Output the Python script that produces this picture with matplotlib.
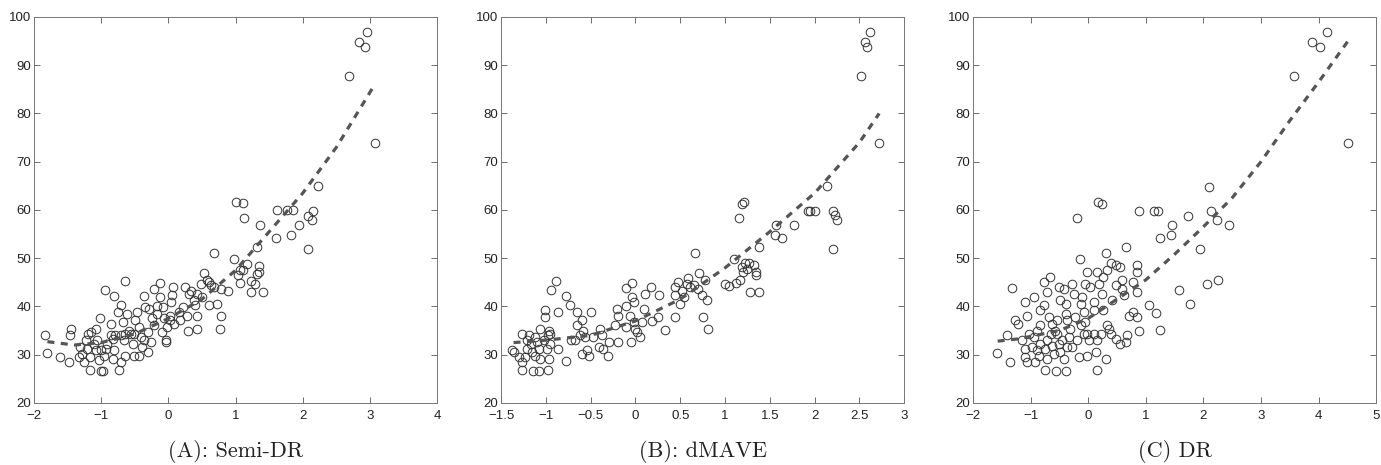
import matplotlib
matplotlib.use("Agg")
import matplotlib.pyplot as plt

# ---------------- Panel A: Semi-DR ----------------
x_a = [2.95, 2.84, 2.93, 2.69, 3.07,
       1.01, 1.11, 1.13, 1.37, 1.61, 1.60, 1.77, 1.85, 1.82, 1.94, 2.07, 2.15, 2.14, 2.07, 2.22, 1.32, 0.68, 0.97,
       1.06, 1.11, 1.17, 1.06, 1.23, 1.29, 1.23, 1.41, 1.35, 1.35, 1.32, 1.04,
       0.53, 0.58, 0.48, 0.63, 0.68, 0.78, 0.88, 0.25, 0.33, 0.43, 0.38, 0.50, 0.60, 0.72, 0.79, 0.77, 0.43, 0.43,
       0.28, 0.29, 0.39, 0.60, 0.31, 0.22,
       -0.13, 0.07, -0.21, 0.05, 0.04, -0.13, -0.08, -0.17, -0.24, -0.07, 0.03, 0.08, -0.02, -0.09, 0.03, -0.04,
       -0.03, -0.21, 0.18, 0.16, -0.17,
       -0.37, -0.35, -0.29, -0.46, -0.49, -0.44, -0.51, -0.41, -0.36, -0.31, -0.39, -0.31, -0.44, -0.51, -0.26, -0.52,
       -0.64, -0.95, -0.81, -0.71, -0.75, -0.61, -0.86, -0.67, -0.79, -0.71, -0.64, -0.56, -0.86, -0.83, -0.66, -0.59,
       -0.81, -0.83, -0.65, -0.71, -0.74, -1.01, -0.97,
       -1.02, -1.07, -1.20, -1.15, -1.23, -1.31, -1.28, -1.33, -1.26, -1.16, -1.16, -1.08, -1.01, -0.93, -1.03, -0.96,
       -0.91, -1.11, -1.21, -1.06,
       -1.84, -1.80, -1.62, -1.48, -1.45, -1.46]
y_a = [96.9, 94.8, 93.8, 87.8, 73.8,
       61.7, 61.5, 58.4, 56.8, 59.9, 54.2, 59.9, 59.9, 54.8, 56.8, 58.8, 59.8, 57.9, 51.9, 64.9, 52.4, 51.1, 49.9,
       47.6, 47.5, 48.7, 44.9, 45.3, 44.6, 42.9, 42.9, 48.4, 47.1, 46.7, 46.5,
       46.9, 45.4, 44.7, 44.4, 44.0, 43.7, 43.3, 44.0, 43.2, 42.6, 41.3, 42.0, 40.2, 40.6, 38.1, 35.4, 38.1, 35.4,
       38.1, 35.0, 40.2, 45.0, 42.6, 39.9,
       44.9, 44.0, 43.7, 42.3, 40.9, 42.0, 39.9, 38.5, 37.5, 37.5, 38.1, 36.4, 35.7, 34.7, 37.1, 32.6,
       33.0, 36.1, 37.1, 38.8, 40.0,
       42.1, 39.9, 39.5, 38.8, 37.1, 35.7, 34.3, 33.6, 33.0, 34.7, 31.6, 30.5, 29.8, 29.8, 32.6, 32.3,
       45.2, 43.5, 42.1, 40.2, 38.8, 38.5, 36.4, 36.8, 34.0, 34.0, 34.3, 34.3, 34.0, 33.3, 33.0, 35.0,
       30.9, 29.1, 29.8, 28.4, 26.9, 26.7, 26.6,
       37.5, 35.4, 34.3, 34.7, 33.0, 31.6, 30.2, 29.5, 28.4, 26.9, 29.5, 30.9, 30.9, 31.2, 28.8, 29.8,
       32.3, 32.3, 31.2, 33.0,
       34.0, 30.4, 29.5, 28.4, 35.4, 34.0]
fit_xa = [-1.8, -1.4, -1.0, -0.5, 0.0, 0.5, 1.0, 1.5, 2.0, 2.5, 3.07]
fit_ya = [32.7, 32.0, 32.5, 34.3, 37.5, 41.5, 47.5, 55.5, 63.5, 73.0, 86.0]

# ---------------- Panel B: dMAVE ----------------
x_b = [2.62, 2.56, 2.58, 2.52, 2.72,
       1.21, 1.19, 1.16, 1.57, 1.56, 1.63, 1.77, 1.93, 2.00, 1.95, 2.14, 2.20, 2.23, 2.25, 2.20, 1.38, 0.66, 1.10,
       1.00, 1.04, 1.12, 1.19, 1.22, 1.27, 1.32, 1.34, 1.35, 1.28, 1.38, 1.20, 1.25, 1.17,
       0.44, 0.44, 0.50, 0.52, 0.57, 0.59, 0.61, 0.65, 0.70, 0.71, 0.78, 0.74, 0.80, 0.75, 0.81, 0.44, 0.54, 0.48,
       -0.04, -0.11, -0.21, -0.19, -0.23, -0.20, -0.10, -0.04, -0.02, -0.06, -0.02, 0.00, 0.02, -0.05, 0.05, 0.07,
       0.09, 0.11, 0.17, 0.18, 0.25, 0.26, 0.33, -0.10,
       -0.89, -0.94, -0.78, -0.73, -0.86, -0.86, -0.77, -0.65, -0.60, -0.65, -0.58, -0.62, -0.56, -0.67, -0.60, -0.50,
       -0.52, -0.54, -0.47, -0.39, -0.37, -0.41, -0.36, -0.31, -0.29, -0.72,
       -1.01, -1.01, -0.97, -0.98, -0.95, -1.06, -1.12, -1.17, -1.19, -1.27, -1.21, -1.15, -1.12, -1.08, -1.23, -1.06,
       -0.99, -0.97, -1.36, -1.30, -1.27, -1.27, -1.14, -1.08, -0.98, -1.38, -1.21, -1.10, -1.02, -0.95]
y_b = [96.9, 94.8, 93.8, 87.8, 73.8,
       61.7, 61.3, 58.4, 56.8, 54.8, 54.2, 56.8, 59.8, 59.8, 59.8, 64.9, 59.8, 58.9, 57.9, 51.9, 52.3, 51.1, 49.9,
       44.6, 44.3, 44.9, 48.2, 48.9, 49.0, 48.5, 47.1, 46.5, 42.9, 42.9, 47.1, 47.8, 45.4,
       44.0, 42.3, 40.6, 43.3, 44.7, 45.8, 44.0, 44.4, 43.7, 46.9, 45.4, 42.3, 41.3, 37.9, 35.4, 37.9, 42.0, 45.1,
       44.9, 43.9, 39.5, 38.1, 36.1, 32.6, 40.1, 42.0, 40.9, 38.1, 36.8, 35.4, 34.7, 32.6, 33.6, 36.8,
       39.5, 42.5, 44.0, 37.0, 37.8, 42.3, 35.2, 35.7,
       45.2, 43.5, 42.1, 40.2, 38.8, 31.2, 28.6, 38.8, 37.1, 36.1, 35.0, 34.0, 33.6, 33.0, 30.2, 38.8,
       29.8, 30.9, 33.6, 35.4, 34.0, 31.6, 31.2, 29.8, 32.6, 33.0,
       39.2, 37.8, 35.0, 34.0, 34.3, 35.4, 33.6, 32.3, 34.0, 34.3, 31.2, 30.5, 29.8, 31.2, 29.5, 29.1,
       31.2, 29.1, 30.5, 29.5, 28.4, 26.9, 26.7, 26.6, 26.9, 30.9, 33.0, 32.6, 33.0, 32.3]
fit_xb = [-1.36, -1.0, -0.5, 0.0, 0.5, 1.0, 1.5, 2.0, 2.5, 2.72]
fit_yb = [32.5, 33.0, 34.0, 37.0, 41.5, 48.0, 55.5, 63.5, 74.0, 80.0]

# ---------------- Panel C: DR ----------------
x_c = [4.15, 3.88, 4.03, 3.57, 4.51,
       2.09, 2.14, 2.23, 2.44, 1.95, 1.74, 2.07, 2.25, 1.76, 1.57, 1.45, 1.43, 1.25, 1.14, 1.21, 0.89, 0.17, 0.24,
       -0.19, 0.66, 0.31, -0.14, 1.05, 1.18, 1.25, 0.85, 0.84, 0.85, 0.84, 0.88, 0.78, 0.71, 0.78, 0.63, 0.55,
       0.48, 0.39, 0.33, 0.59, 0.49, 0.59, 0.42, 0.24, 0.19, 0.15, 0.26, 0.26, 0.10, -0.02, -0.05, 0.04, -0.10,
       -0.13, -0.25, -0.28, -0.07, -0.05, -0.13, -0.02, 0.01, -0.19, -0.16, -0.02, 0.14, 0.16, 0.31, 0.10, 0.22,
       0.36, 0.39, 0.48, 0.56, 0.65, 0.68, -0.28, -0.31, -0.36, -0.39, -0.48, -0.51, -0.42, -0.67, -0.77, -0.72,
       -0.77, -0.84, -0.94, -1.10, -1.06, -1.27, -1.33, -1.21, -1.40, -1.58, -1.36, -1.09, -1.15, -1.03, -0.94,
       -0.89, -0.83, -1.09, -1.06, -0.92, -0.86, -0.74, -0.71, -0.65, -0.63, -0.68, -0.54, -0.54, -0.51, -0.48,
       -0.60, -0.71, -0.74, -0.56, -0.39, -0.42, -0.36, -0.34, -0.45, -0.83, -0.97, -0.89, -0.63, -0.57, -0.38,
       -0.22, 0.16, -0.07, 0.33, 0.10]
y_c = [96.9, 94.8, 93.8, 87.8, 73.8,
       64.8, 59.8, 57.9, 56.8, 51.9, 58.8, 44.7, 45.4, 40.6, 43.5, 56.8, 54.9, 54.2, 59.8, 59.8, 59.8, 61.7, 61.3,
       58.4, 52.3, 51.1, 49.9, 40.2, 38.6, 35.2, 48.5, 47.1, 43.0, 37.9, 34.9, 38.8, 38.1, 45.1, 42.3, 48.2,
       48.5, 48.9, 47.6, 45.4, 44.4, 43.7, 41.3, 42.6, 44.7, 47.1, 46.1, 39.2, 40.9, 47.1, 44.7, 44.0, 42.0,
       40.6, 42.6, 44.7, 38.8, 36.8, 36.1, 34.3, 33.0, 33.0, 29.5, 29.8, 30.5, 26.9, 29.1, 34.3, 34.3,
       35.4, 34.3, 33.3, 32.3, 32.6, 34.0, 31.6, 35.4, 37.1, 38.5, 41.3, 44.0, 43.7, 46.1, 45.1, 43.0,
       40.2, 39.2, 41.9, 40.9, 38.1, 37.1, 43.9, 36.4, 34.0, 30.4, 28.4, 31.2, 33.0, 34.3, 33.6,
       35.0, 36.1, 29.5, 28.4, 28.4, 29.8, 31.2, 33.0, 34.3, 36.4, 37.8, 37.1, 34.3, 32.3, 30.5,
       30.2, 29.1, 26.9, 26.6, 26.7, 29.1, 31.6, 33.6, 33.0, 32.3, 31.6, 30.9, 31.9, 35.0, 40.6,
       37.8, 33.0, 34.3, 36.1, 39.2]
fit_xc = [-1.57, -1.2, -0.5, 0.0, 0.5, 1.0, 1.5, 2.0, 2.5, 3.0, 3.5, 4.0, 4.51]
fit_yc = [32.8, 33.3, 35.0, 37.5, 41.5, 45.5, 50.8, 56.5, 62.5, 70.0, 78.5, 86.5, 95.0]

captions = ["(A): Semi-DR", "(B): dMAVE", "(C) DR"]
xlims = [(-2, 4), (-1.5, 3), (-2, 5)]
xticks = [[-2, -1, 0, 1, 2, 3, 4],
          [-1.5, -1, -0.5, 0, 0.5, 1, 1.5, 2, 2.5, 3],
          [-2, -1, 0, 1, 2, 3, 4, 5]]
xticklabels = [["\u22122", "\u22121", "0", "1", "2", "3", "4"],
               ["\u22121.5", "\u22121", "\u22120.5", "0", "0.5", "1", "1.5", "2", "2.5", "3"],
               ["\u22122", "\u22121", "0", "1", "2", "3", "4", "5"]]
yticks = [20, 30, 40, 50, 60, 70, 80, 90, 100]

panels = [(x_a, y_a, fit_xa, fit_ya), (x_b, y_b, fit_xb, fit_yb), (x_c, y_c, fit_xc, fit_yc)]
lefts = [0.0246, 0.3628, 0.7045]

fig = plt.figure(figsize=(13.81, 4.65), dpi=100)
for i, (xs, ys, fx, fy) in enumerate(panels):
    ax = fig.add_axes([lefts[i], 0.1335, 0.292, 0.83])
    ax.plot(xs, ys, linestyle="none", marker="o", markersize=6.2,
            markerfacecolor="none", markeredgecolor="#333333", markeredgewidth=0.7)
    ax.plot(fx, fy, linestyle=(0, (2.2, 2.0)), color="#555555", linewidth=2.3)
    ax.set_xlim(*xlims[i])
    ax.set_ylim(20, 100)
    ax.set_xticks(xticks[i])
    ax.set_xticklabels(xticklabels[i])
    ax.set_yticks(yticks)
    ax.set_yticklabels([str(v) for v in yticks])
    ax.tick_params(direction="in", top=True, right=True, length=4, width=0.6,
                   labelsize=9.5, color="#555555", labelcolor="#222222")
    ax.tick_params(axis="x", pad=5)
    ax.tick_params(axis="y", pad=2)
    for lab in ax.get_xticklabels() + ax.get_yticklabels():
        lab.set_family("Liberation Sans")
    for sp in ax.spines.values():
        sp.set_linewidth(0.7)
        sp.set_color("#777777")
    fig.text(lefts[i] + 0.146, 0.028, captions[i], ha="center", va="center",
             fontsize=16, family="cmr10", color="#222222")

fig.savefig("out.png", dpi=100)
